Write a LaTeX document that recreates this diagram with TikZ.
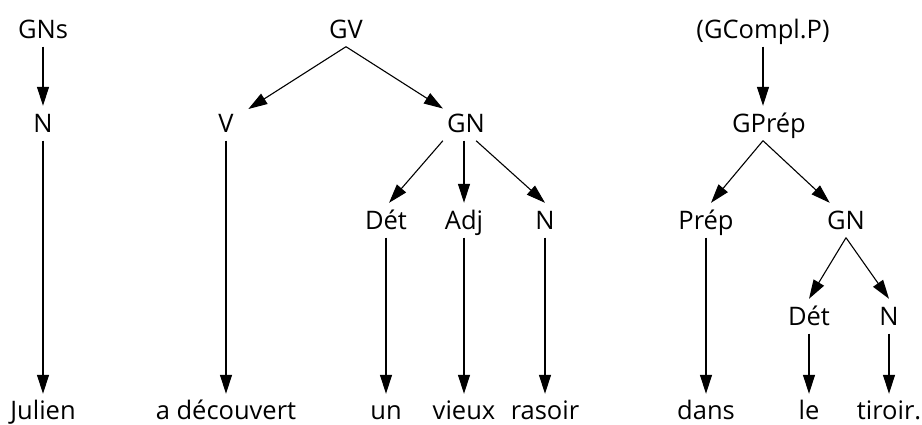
\documentclass[tikz,border=0pt]{standalone}
\usepackage{fontspec}
\setmainfont{Open Sans}
\usetikzlibrary{arrows.meta}
\begin{document}
\begin{tikzpicture}[x=1pt,y=-1pt,
  lab/.style={inner xsep=4pt, inner ysep=4pt, text height=22pt, text depth=4.5pt,
              font=\fontsize{25.5}{30}\selectfont},
  word/.style={lab, inner ysep=3pt, text depth=0pt},
  arr/.style={draw, line width=1.1pt, -{Triangle[length=19pt,width=12pt]}}]
\useasboundingbox (0,0) rectangle (922,424);
% row 1
\node[lab] (GNs) at (43,29.25) {GNs};
\node[lab] (GV)  at (346,29.25) {GV};
\node[lab] (GCP) at (763,29.25) {(GCompl.P)};
% row 2
\node[lab] (N1) at (43,123.25) {N};
\node[lab] (V)  at (226,123.25) {V};
\node[lab] (GN) at (466,123.25) {GN};
\node[lab] (GP) at (769,123.25) {GPrép};
% row 3
\node[lab] (Det)  at (386,220.25) {Dét};
\node[lab] (Adj)  at (464,220.25) {Adj};
\node[lab] (N2)   at (545,220.25) {N};
\node[lab] (Prep) at (706,220.25) {Prép};
\node[lab] (GN3)  at (846,220.25) {GN};
% row 4
\node[lab] (Det3) at (809,316.25) {Dét};
\node[lab] (N3)   at (889,316.25) {N};
% words
\node[word] (Julien) at (43,408) {Julien};
\node[word] (ad)     at (226,408) {a découvert};
\node[word] (un)     at (386,408) {un};
\node[word] (vieux)  at (464,408) {vieux};
\node[word] (rasoir) at (545,408) {rasoir};
\node[word] (dans)   at (706,408) {dans};
\node[word] (le)     at (809,408) {le};
\node[word] (tiroir) at (889,408) {tiroir.};
% tree edges
\draw[arr] (GNs.south) -- (N1.north);
\draw[arr, shorten >=12.5pt] (GV.south) -- (V);
\draw[arr] (GV.south) -- (GN);
\draw[arr] (GN.south west) -- (Det.80);
\draw[arr] (Adj.north |- GN.south) -- (Adj.north);
\draw[arr] (GN.-60) -- (N2.north);
\draw[arr] (GCP.south) -- (GCP.south |- GP.north);
\draw[arr] (GCP.south |- GP.south) -- (Prep.74);
\draw[arr] (GCP.south |- GP.south) -- (GN3.133);
\draw[arr] (GN3.south) -- (Det3.north);
\draw[arr] (GN3.south) -- (N3.north);
% to words
\draw[arr] (N1.south) -- (Julien.north);
\draw[arr] (V.south) -- (ad.north);
\draw[arr] (Det.south) -- (un.north);
\draw[arr] (Adj.south) -- (vieux.north);
\draw[arr] (N2.south) -- (rasoir.north);
\draw[arr] (Prep.south) -- (dans.north);
\draw[arr] (Det3.south) -- (le.north);
\draw[arr] (N3.south) -- (tiroir.north);
\end{tikzpicture}
\end{document}
